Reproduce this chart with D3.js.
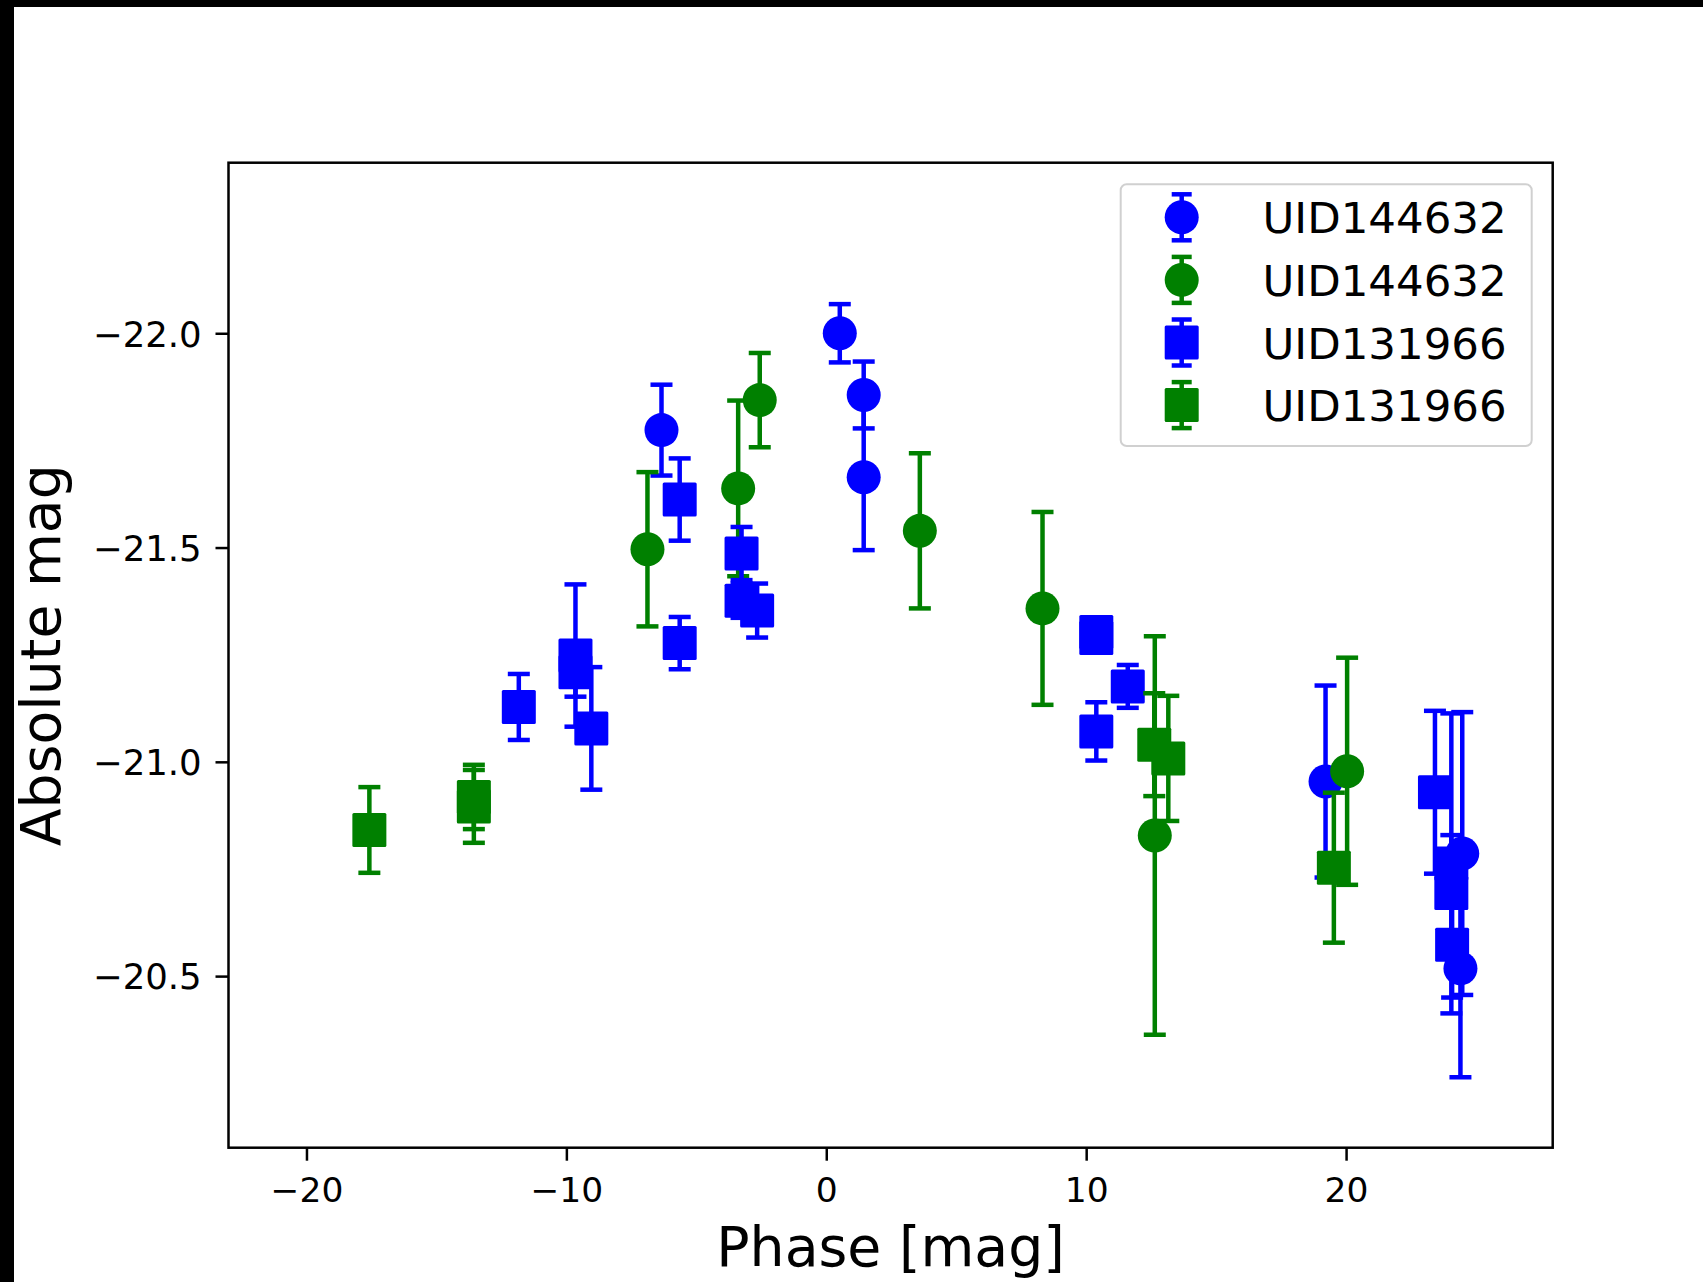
<!DOCTYPE html>
<html>
<head>
<meta charset="utf-8">
<script src="https://cdn.jsdelivr.net/npm/d3@7"></script>
<style>
  html, body { margin: 0; padding: 0; background: #ffffff; }
  svg { display: block; }
  text { font-family: "DejaVu Sans", sans-serif; fill: #000; }
</style>
</head>
<body>
<svg id="chart" width="1703" height="1282"></svg>
<script>
// Light-curve points: phase, absolute magnitude and 1-sigma error per object/band
const uid144632BluePhase = [-6.34, 0.52, 1.44, 1.44, 19.21, 24.47, 24.40];
const uid144632BlueMag   = [-21.774, -22.000, -21.856, -21.664, -20.954, -20.786, -20.518];
const uid144632BlueErr   = [0.106, 0.068, 0.078, 0.170, 0.224, 0.330, 0.254];

const uid144632GreenPhase = [-6.88, -3.39, -2.56, 3.60, 8.32, 12.64, 20.04];
const uid144632GreenMag   = [-21.496, -21.638, -21.844, -21.539, -21.358, -20.828, -20.978];
const uid144632GreenErr   = [0.180, 0.205, 0.110, 0.181, 0.225, 0.465, 0.265];

const uid131966BluePhase = [-11.83, -9.65, -9.65, -9.04, -5.64, -5.64, -3.26, -3.26, -2.66,
                            10.39, 10.39, 11.60, 10.39, 23.42, 24.05, 24.05, 24.08];
const uid131966BlueMag   = [-21.128, -21.248, -21.209, -21.078, -21.612, -21.277, -21.486, -21.376, -21.353,
                            -21.303, -21.289, -21.176, -21.071, -20.929, -20.763, -20.694, -20.573];
const uid131966BlueErr   = [0.077, 0.166, 0.057, 0.143, 0.096, 0.061, 0.062, 0.040, 0.063,
                            0.030, 0.030, 0.050, 0.068, 0.190, 0.350, 0.135, 0.123];

const uid131966GreenPhase = [-17.58, -13.56, -13.56, 12.62, 13.16, 19.53];
const uid131966GreenMag   = [-20.841, -20.918, -20.896, -21.040, -21.008, -20.753];
const uid131966GreenErr   = [0.100, 0.075, 0.085, 0.120, 0.146, 0.175];

const seriesLabels = ["UID144632", "UID144632", "UID131966", "UID131966"];
const seriesColors = ["#0000ff", "#008000", "#0000ff", "#008000"];
const seriesShapes = ["circle", "circle", "square", "square"];

const phaseTicks = [-20, -10, 0, 10, 20];
const magTicks = [-22.0, -21.5, -21.0, -20.5];

const xLabel = "Phase [mag]";
const yLabel = "Absolute mag";

// Build series records from the arrays above
const series = [
  [uid144632BluePhase, uid144632BlueMag, uid144632BlueErr],
  [uid144632GreenPhase, uid144632GreenMag, uid144632GreenErr],
  [uid131966BluePhase, uid131966BlueMag, uid131966BlueErr],
  [uid131966GreenPhase, uid131966GreenMag, uid131966GreenErr]
].map(([p, m, e], i) => ({
  label: seriesLabels[i],
  color: seriesColors[i],
  shape: seriesShapes[i],
  points: p.map((ph, j) => ({ phase: ph, mag: m[j], err: e[j] }))
}));

// Layout
const plot = { left: 228.5, right: 1552.7, top: 162.7, bottom: 1147.7 };
const tickFont = 34.5, yTickFont = 35.5, labelFont = 55.3, legendFont = 43.5;
const markerR = 17, squareSide = 34, capHalf = 11, errWidth = 4.5;

const svg = d3.select("#chart");

// Outer figure background with the dark strips along the top and left edges
svg.append("rect").attr("width", 1703).attr("height", 1282).attr("fill", "#ffffff");
svg.append("rect").attr("x", 0).attr("y", 0).attr("width", 1703).attr("height", 7).attr("fill", "#000");
svg.append("rect").attr("x", 0).attr("y", 0).attr("width", 14).attr("height", 1282).attr("fill", "#000");

const x = d3.scaleLinear().domain([-23.0, 27.95]).range([plot.left, plot.right]);
const y = d3.scaleLinear().domain([-22.398, -20.0996]).range([plot.top, plot.bottom]);

const fmtX = d3.format("d");
const fmtY = d3.format(".1f");

// X axis
const gx = svg.append("g")
  .attr("transform", `translate(0,${plot.bottom})`)
  .call(d3.axisBottom(x).tickValues(phaseTicks).tickFormat(fmtX).tickSize(13).tickSizeOuter(0));
gx.select(".domain").remove();
gx.selectAll(".tick line").attr("stroke", "#000").attr("stroke-width", 2.5);
gx.selectAll(".tick text")
  .attr("y", 54.3).attr("dy", null)
  .style("font-size", tickFont + "px")
  .attr("fill", "#000");

// Y axis
const gy = svg.append("g")
  .attr("transform", `translate(${plot.left},0)`)
  .call(d3.axisLeft(y).tickValues(magTicks).tickFormat(fmtY).tickSize(13).tickSizeOuter(0));
gy.select(".domain").remove();
gy.selectAll(".tick line").attr("stroke", "#000").attr("stroke-width", 2.5);
gy.selectAll(".tick text")
  .attr("x", -26.8).attr("dy", null).attr("y", 12.8)
  .style("font-size", yTickFont + "px")
  .attr("fill", "#000");

// Axis titles
svg.append("text")
  .attr("x", (plot.left + plot.right) / 2)
  .attr("y", 1266)
  .attr("text-anchor", "middle")
  .style("font-size", labelFont + "px")
  .text(xLabel);

svg.append("text")
  .attr("transform", `translate(60,${(plot.top + plot.bottom) / 2}) rotate(-90)`)
  .attr("text-anchor", "middle")
  .style("font-size", labelFont + "px")
  .text(yLabel);

// Data layer, clipped to the axes box
svg.append("clipPath").attr("id", "plotClip")
  .append("rect")
  .attr("x", plot.left).attr("y", plot.top)
  .attr("width", plot.right - plot.left).attr("height", plot.bottom - plot.top);

const dataLayer = svg.append("g").attr("clip-path", "url(#plotClip)");

function drawMarker(sel, shape, color) {
  if (shape === "circle") {
    sel.append("circle").attr("r", markerR).attr("fill", color);
  } else {
    sel.append("rect")
      .attr("x", -squareSide / 2).attr("y", -squareSide / 2)
      .attr("width", squareSide).attr("height", squareSide)
      .attr("rx", 1.5)
      .attr("fill", color);
  }
}

series.forEach(s => {
  const g = dataLayer.append("g");
  // vertical error bars
  g.append("g").selectAll("line").data(s.points).join("line")
    .attr("x1", d => x(d.phase)).attr("x2", d => x(d.phase))
    .attr("y1", d => y(d.mag - d.err)).attr("y2", d => y(d.mag + d.err))
    .attr("stroke", s.color).attr("stroke-width", errWidth);
  // caps
  const caps = s.points.flatMap(d => [
    { phase: d.phase, mag: d.mag - d.err },
    { phase: d.phase, mag: d.mag + d.err }
  ]);
  g.append("g").selectAll("line").data(caps).join("line")
    .attr("x1", d => x(d.phase) - capHalf).attr("x2", d => x(d.phase) + capHalf)
    .attr("y1", d => y(d.mag)).attr("y2", d => y(d.mag))
    .attr("stroke", s.color).attr("stroke-width", errWidth);
  // markers
  g.append("g").selectAll("g").data(s.points).join("g")
    .attr("transform", d => `translate(${x(d.phase)},${y(d.mag)})`)
    .each(function () { drawMarker(d3.select(this), s.shape, s.color); });
});

// Axes frame
svg.append("rect")
  .attr("x", plot.left).attr("y", plot.top)
  .attr("width", plot.right - plot.left).attr("height", plot.bottom - plot.top)
  .attr("fill", "none").attr("stroke", "#000").attr("stroke-width", 2.5);

// Legend
const legend = { x: 1120.7, y: 184.3, w: 411, h: 261.7, rowY0: 217.3, rowStep: 62.6, markerX: 1181.7, textX: 1262.5 };
const lg = svg.append("g");
lg.append("rect")
  .attr("x", legend.x).attr("y", legend.y)
  .attr("width", legend.w).attr("height", legend.h)
  .attr("rx", 6)
  .attr("fill", "#ffffff").attr("fill-opacity", 0.8)
  .attr("stroke", "#d0d0d0").attr("stroke-width", 2);

series.forEach((s, i) => {
  const cy = legend.rowY0 + i * legend.rowStep;
  const row = lg.append("g").attr("transform", `translate(${legend.markerX},${cy})`);
  row.append("line").attr("x1", 0).attr("x2", 0).attr("y1", -23).attr("y2", 23)
    .attr("stroke", s.color).attr("stroke-width", errWidth);
  [-23, 23].forEach(v => row.append("line")
    .attr("x1", -10).attr("x2", 10).attr("y1", v).attr("y2", v)
    .attr("stroke", s.color).attr("stroke-width", errWidth));
  drawMarker(row, s.shape, s.color);
  lg.append("text")
    .attr("x", legend.textX).attr("y", cy + 16)
    .style("font-size", legendFont + "px")
    .text(s.label);
});
</script>
</body>
</html>
